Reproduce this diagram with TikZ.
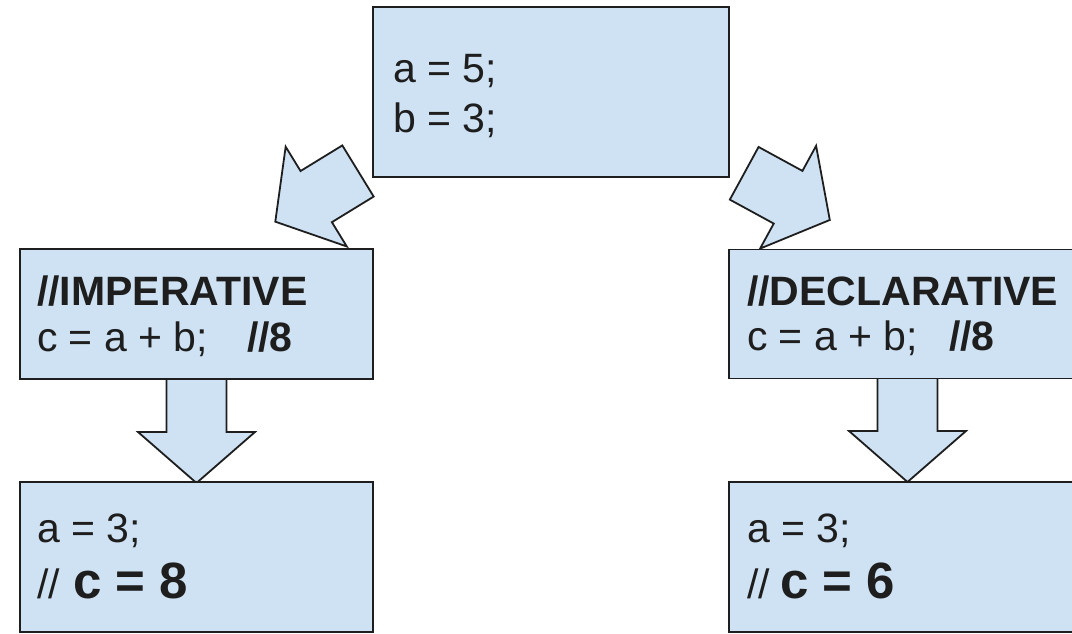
\documentclass[tikz,border=0pt]{standalone}
\usepackage{fontspec}
\setmainfont{Liberation Sans}
\definecolor{boxfill}{HTML}{CFE2F3}
\definecolor{ink}{HTML}{1E1E1E}
\tikzset{
  box/.style={draw=ink, fill=boxfill, line width=1.8pt, inner sep=0pt, outer sep=0pt, anchor=north west},
  blockarrow/.style={draw=ink, fill=boxfill, line width=1.8pt, line join=miter},
  txt/.style={anchor=base west, inner sep=0pt, outer sep=0pt, text=ink, font=\fontsize{41}{49}\selectfont},
  txtb/.style={txt, font=\fontsize{41}{49}\selectfont\bfseries},
  txtbig/.style={txt, font=\fontsize{51}{61}\selectfont\bfseries},
}
\newcommand\blkarrow[6]{%
  \draw[blockarrow, shift={(#1,#2)}, rotate=#3]
    (0,-30) -- (#4,-30) -- (#4,-58.5) -- ({#4+#5},0) -- (#4,58.5) -- (#4,30) -- (0,30) -- cycle;
  \coordinate (#6) at (#1,#2);}
\begin{document}
\begin{tikzpicture}[x=1pt,y=-1pt]
\useasboundingbox (0,0) rectangle (1072,634);
\clip (0,0) rectangle (1072,634);
% block arrows
\blkarrow{358}{171}{211.5}{49}{48}{arrL}
\blkarrow{744.2}{173.3}{-28.6}{50}{47.5}{arrR}
\blkarrow{196.5}{379}{-90}{53}{51}{arrDL}
\blkarrow{907.5}{378}{-90}{53}{51}{arrDR}
% boxes
\node[box, minimum width=356pt, minimum height=170pt] (top) at (373,7) {};
\node[box, minimum width=353pt, minimum height=130pt] (midL) at (20,249) {};
\node[box, minimum width=353pt, minimum height=129pt] (midR) at (729,249.5) {};
\node[box, minimum width=353pt, minimum height=150pt] (botL) at (20,482) {};
\node[box, minimum width=353pt, minimum height=150pt] (botR) at (729,482) {};
% texts
\node[txt] (t1) at (393,83) {a = 5;};
\node[txt] (t2) at (393,132) {b = 3;};
\node[txtb] (l1) at (37,305) {//IMPERATIVE};
\node[txt] (l2) at (37,351) {c = a + b;};
\node[txtb] (l3) at (247,351) {//8};
\node[txtb] (r1) at (747,305) {//DECLARATIVE};
\node[txt] (r2) at (747,350) {c = a + b;};
\node[txtb] (r3) at (949,350) {//8};
\node[txt] (b1) at (37,542) {a = 3;};
\node[txt] (b2) at (37,598) {//};
\node[txtbig] (b3) at (73,598) {c = 8};
\node[txt] (c1) at (747,542) {a = 3;};
\node[txt] (c2) at (747,598) {//};
\node[txtbig] (c3) at (780,598) {c = 6};
\end{tikzpicture}
\end{document}
